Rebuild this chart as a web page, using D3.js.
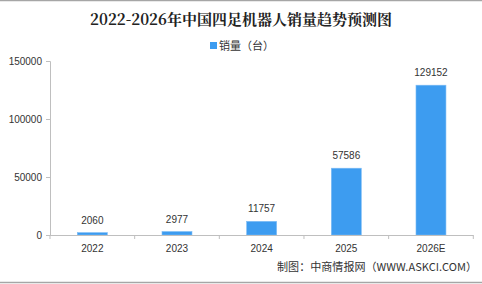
<!DOCTYPE html>
<html><head><meta charset="utf-8">
<script src="https://cdn.jsdelivr.net/npm/d3@7"></script>
<style>html,body{margin:0;padding:0;background:#fff;}svg{display:block;}</style>
</head><body>
<script>
const categories = ["2022", "2023", "2024", "2025", "2026E"];
const sales = [2060, 2977, 11757, 57586, 129152];
const yTicks = [0, 50000, 100000, 150000];
const titleText = "2022-2026年中国四足机器人销量趋势预测图";
const legendText = "销量（台）";
const sourceText = "制图：中商情报网（WWW.ASKCI.COM）";

const W = 482, H = 284;
const svg = d3.select("body").append("svg").attr("width", W).attr("height", H);

// frame lines
svg.append("line").attr("x1",0).attr("x2",W).attr("y1",0.5).attr("y2",0.5).attr("stroke","#a6a6a6").attr("stroke-width",1.5);
svg.append("line").attr("x1",0).attr("x2",W).attr("y1",282.5).attr("y2",282.5).attr("stroke","#a6a6a6").attr("stroke-width",1.5);

svg.append("text").attr("x",241).attr("y",25).attr("text-anchor","middle")
  .attr("font-family","'Noto Serif CJK SC','Noto Sans CJK SC',serif").attr("font-weight","bold")
  .attr("font-size",15).attr("fill","#222").text(titleText);

// legend
svg.append("rect").attr("x",210).attr("y",42).attr("width",7).attr("height",7).attr("fill","#3d9cf0");
svg.append("text").attr("x",219).attr("y",49.5).attr("font-family","'Noto Sans CJK SC',sans-serif")
  .attr("font-size",11).attr("fill","#333").text(legendText);

const x = d3.scaleBand().domain(categories).range([50, 473.3]).paddingInner(0.646).paddingOuter(0.323);
const y = d3.scaleLinear().domain([0, 150000]).range([235, 61]);

const axisColor = "#bfbfbf";
const font = "'Liberation Sans',Arial,sans-serif";

// y axis
const ya = svg.append("g").attr("transform","translate(50,0)")
  .call(d3.axisLeft(y).tickValues(yTicks).tickSize(4).tickPadding(4).tickFormat(d3.format("d")));
ya.select(".domain").attr("stroke",axisColor);
ya.selectAll(".tick line").attr("stroke",axisColor);
ya.selectAll("text").attr("font-family",font).attr("font-size",10).attr("fill","#333");

// bars
svg.selectAll("rect.bar").data(sales).enter().append("rect").attr("class","bar")
  .attr("x",(d,i)=>x(categories[i])).attr("width",x.bandwidth())
  .attr("y",d=>y(d)).attr("height",d=>y(0)-y(d))
  .attr("fill","#3d9cf0").attr("stroke","#7dbcf5").attr("stroke-width",0.6);

svg.selectAll("text.val").data(sales).enter().append("text").attr("class","val")
  .attr("x",(d,i)=>x(categories[i])+x.bandwidth()/2).attr("y",d=>y(d)-9)
  .attr("text-anchor","middle").attr("font-family",font).attr("font-size",10).attr("fill","#333")
  .text(d=>d);

// x axis
const xa = svg.append("g").attr("transform","translate(0,235)")
  .call(d3.axisBottom(x).tickSize(0).tickPadding(10));
xa.select(".domain").attr("stroke",axisColor).attr("d","M50,0.5H473.3");
xa.selectAll("text").attr("font-family",font).attr("font-size",10).attr("fill","#333");
const bounds = [...categories.map(c=>x(c)-x.step()*x.paddingInner()/2), 473.3];
xa.selectAll("line.sep").data(bounds).enter().append("line").attr("class","sep")
  .attr("x1",d=>d).attr("x2",d=>d).attr("y1",0).attr("y2",4).attr("stroke",axisColor);

svg.append("text").attr("x",277).attr("y",271)
  .attr("font-family","'Noto Sans CJK SC',sans-serif").attr("font-size",11).attr("fill","#333")
  .attr("textLength",200).attr("lengthAdjust","spacingAndGlyphs").text(sourceText);
</script>
</body></html>
